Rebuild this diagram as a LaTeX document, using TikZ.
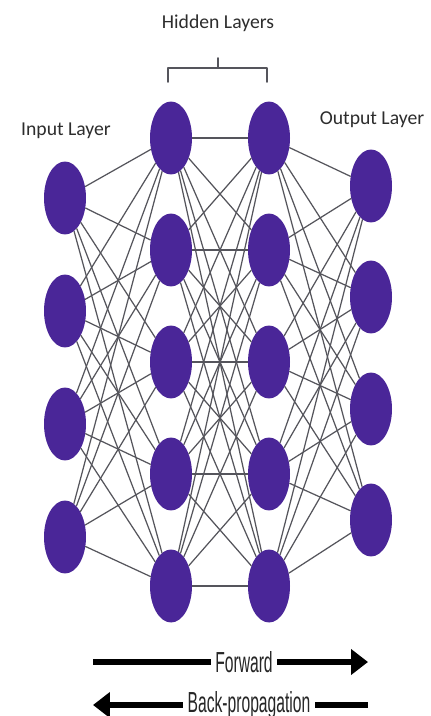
\documentclass[tikz,border=0pt]{standalone}
\usepackage{fontspec}
\setmainfont{Carlito}
\newfontfamily\narrowfont[FakeStretch=0.54]{Liberation Sans}
\usetikzlibrary{shapes.geometric}
\usetikzlibrary{arrows.meta}
\definecolor{neuronfill}{RGB}{74,38,152}
\definecolor{wiregray}{RGB}{85,85,92}
\definecolor{textgray}{RGB}{45,45,45}
\tikzstyle{every path}=[line cap=round,line join=round]
\tikzstyle{neuron}=[ellipse,fill=neuronfill,draw=none,minimum width=0.84cm,minimum height=1.46cm,inner sep=0pt]
\tikzstyle{wire}=[draw=wiregray,line width=0.7pt]
\tikzstyle{layerlabel}=[font=\fontsize{11.2}{13}\selectfont,text=textgray]
\tikzstyle{dirlabel}=[font=\narrowfont\fontsize{16.5}{18}\selectfont,text=black!85,inner sep=2.5pt]

\begin{document}
\begin{tikzpicture}[x=0.02cm,y=-0.02cm]
		\tikzstyle{thickbar} = [line width=2.9pt,line cap=butt]
		\tikzstyle{bigarrow} = [thickbar,-{Triangle[length=0.34cm, width=0.5cm]}]
		
		\fill[white] (0,0) rectangle (430,716);
		\useasboundingbox (0,0) rectangle (430,716);
		
		% input layer
		\node[neuron] (i1) at (65,198) {};
		\node[neuron] (i2) at (65,311) {};
		\node[neuron] (i3) at (65,424) {};
		\node[neuron] (i4) at (65,537) {};
		
		% hidden layers
		\node[neuron] (h1) at (171,138) {};
		\node[neuron] (h2) at (171,250) {};
		\node[neuron] (h3) at (171,362) {};
		\node[neuron] (h4) at (171,474) {};
		\node[neuron] (h5) at (171,586) {};
		
		\node[neuron] (g1) at (269,138) {};
		\node[neuron] (g2) at (269,250) {};
		\node[neuron] (g3) at (269,362) {};
		\node[neuron] (g4) at (269,474) {};
		\node[neuron] (g5) at (269,586) {};
		
		% output layer
		\node[neuron] (o1) at (371,186) {};
		\node[neuron] (o2) at (371,297) {};
		\node[neuron] (o3) at (371,409) {};
		\node[neuron] (o4) at (371,520) {};
		
		\foreach \a in {1,...,4}
			\foreach \b in {1,...,5}
				\draw[wire] (i\a) -- (h\b);
		\foreach \a in {1,...,5}
			\foreach \b in {1,...,5}
				\draw[wire] (h\a) -- (g\b);
		\foreach \a in {1,...,5}
			\foreach \b in {1,...,4}
				\draw[wire] (g\a) -- (o\b);
		
		\node[layerlabel] (inlbl) at (66,131) {Input Layer};
		\node[layerlabel] (hidlbl) at (218,23) {Hidden Layers};
		\node[layerlabel] (outlbl) at (372,120) {Output Layer};
		
		\coordinate (brL) at (168,82);
		\coordinate (brR) at (267,82);
		\coordinate (brT) at (218,58);
		\draw[draw=wiregray,line width=0.9pt] (brL) -- (168,68) -- (267,68) -- (brR);
		\draw[draw=wiregray,line width=0.9pt] (218,68) -- (brT);
		
		% direction arrows
		\coordinate (fwdA) at (93,662);
		\coordinate (fwdB) at (368,662);
		\node[dirlabel] (fwd) at (244,662) {Forward};
		\draw[thickbar] (fwdA) -- (fwd);
		\draw[bigarrow] (fwd) -- (fwdB);
		
		\coordinate (bpA) at (93,705);
		\coordinate (bpB) at (368,705);
		\node[dirlabel] (bp) at (249,705) {Back-propagation};
		\draw[bigarrow] (bp) -- (bpA);
		\draw[thickbar] (bp) -- (bpB);
		
	\end{tikzpicture}
\end{document}
